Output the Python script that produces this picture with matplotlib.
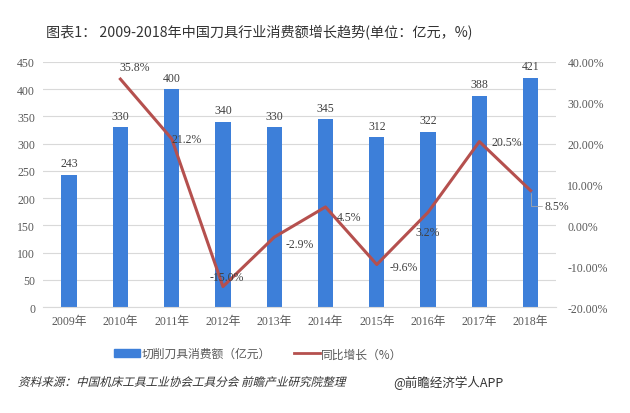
import matplotlib
matplotlib.use("Agg")
import matplotlib.pyplot as plt
import numpy as np
from matplotlib.lines import Line2D
from matplotlib.patches import Patch, PathPatch
from matplotlib.textpath import TextPath
from matplotlib.font_manager import FontProperties
from matplotlib.transforms import Affine2D

plt.rcParams['font.family'] = ['Liberation Serif', 'Noto Sans CJK SC', 'DejaVu Sans']

years = ['2009年', '2010年', '2011年', '2012年', '2013年',
         '2014年', '2015年', '2016年', '2017年', '2018年']
consumption = [243, 330, 400, 340, 330, 345, 312, 322, 388, 421]
growth_years = years[1:]
growth = [35.8, 21.2, -15.0, -2.9, 4.5, -9.6, 3.2, 20.5, 8.5]
# label offsets in points (dx, dy, ha)
growth_offsets = [(10, 9, 'center'), (0, 0, 'left'), (3, 7, 'center'),
                  (8, -5, 'left'), (8, -7, 'left'), (9, -2, 'left'),
                  (-9, -14, 'left'), (9, 0, 'left'), (10, -11, 'left')]

bar_color = '#3D7FD9'
line_color = '#B5504E'
text_color = '#595959'
grid_color = '#D9D9D9'

fig = plt.figure(figsize=(6.3, 4.14), dpi=100)
ax = fig.add_axes([0.069, 0.256, 0.814, 0.592])
ax2 = ax.twinx()

x = np.arange(len(years))
ax.bar(x, consumption, width=0.3, color=bar_color, zorder=2)
for xi, v in zip(x, consumption):
    ax.annotate(str(v), (xi, v), xytext=(0, 4), textcoords='offset points',
                ha='center', va='bottom', fontsize=8.5, color='#404040')

ax.set_xlim(-0.5, len(years) - 0.5)
ax.set_ylim(0, 450)
ax.set_yticks(np.arange(0, 451, 50))
ax.set_xticks(x)
ax.set_xticklabels(years)
ax.grid(axis='y', color=grid_color, linewidth=0.8, zorder=0)
ax.set_axisbelow(True)
for s in ['top', 'left', 'right']:
    ax.spines[s].set_visible(False)
ax.spines['bottom'].set_color(grid_color)
ax.tick_params(axis='both', length=0, labelsize=8.5, labelcolor=text_color, pad=6)

gx = x[1:]
ax2.plot(gx, growth, color=line_color, linewidth=2.2, zorder=3)
for i, (xi, v, (dx, dy, ha)) in enumerate(zip(gx, growth, growth_offsets)):
    props = None
    if i == len(growth) - 1:
        props = dict(arrowstyle='-', color='#A6A6A6', lw=0.6,
                     connectionstyle='angle,angleA=0,angleB=90', shrinkA=0, shrinkB=2)
    ax2.annotate(f'{v:.1f}%', (xi, v), xytext=(dx, dy), textcoords='offset points',
                 ha=ha, va='center', fontsize=8.5, color='#404040', arrowprops=props)
ax2.set_ylim(-20, 40)
ax2.set_yticks(np.arange(-20, 41, 10))
ax2.set_yticklabels([f'{t:.2f}%' for t in np.arange(-20, 41, 10)])
for s in ['top', 'left', 'right', 'bottom']:
    ax2.spines[s].set_visible(False)
ax2.tick_params(axis='y', length=0, labelsize=8.5, labelcolor=text_color, pad=8)

fig.text(0.073, 0.922, '图表1： 2009-2018年中国刀具行业消费额增长趋势(单位：亿元，%)',
         fontsize=10.2, color='#333333', family=['Noto Sans CJK SC'], va='center')

handles = [Patch(color=bar_color), Line2D([0], [0], color=line_color, linewidth=2)]
fig.legend(handles, ['切削刀具消费额（亿元）', '同比增长（%）'], loc='center',
           bbox_to_anchor=(0.41, 0.143), ncol=2, frameon=False,
           labelcolor=text_color, handlelength=2.2, handleheight=0.6,
           handletextpad=0.1, columnspacing=2.0,
           prop={'family': ['Noto Sans CJK SC'], 'size': 8.5})

# source line in slanted (fake italic) glyphs
src = '资料来源：中国机床工具工业协会工具分会 前瞻产业研究院整理'
tp = TextPath((0, 0), src, size=11.6, prop=FontProperties(family='Noto Sans CJK SC'))
tr = Affine2D().skew_deg(14, 0).translate(18, 414 * 0.075 - 4)
fig.patches.append(PathPatch(tr.transform_path(tp), facecolor='#333333',
                             edgecolor='none', transform=None, figure=fig))
fig.text(0.80, 0.075, '@前瞻经济学人APP', fontsize=9, color='#333333',
         family=['Noto Sans CJK SC'], va='center', ha='right')

fig.savefig('out.png', dpi=100, facecolor='white')
